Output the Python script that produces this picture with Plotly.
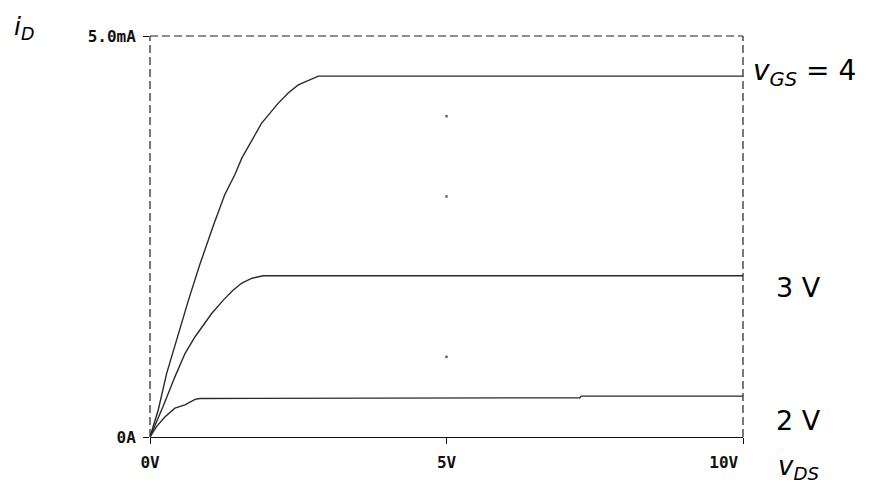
import plotly.graph_objects as go

# Drain characteristics (vDS in V, iD in mA)
vds_4 = [0, 0.14, 0.28, 0.48, 0.65, 0.84, 1.01, 1.07, 1.26, 1.43, 1.55, 1.72, 1.88, 2.16, 2.33, 2.50, 2.73, 2.84, 10]
id_4 = [0, 0.34, 0.79, 1.29, 1.71, 2.15, 2.52, 2.64, 3.02, 3.27, 3.48, 3.70, 3.91, 4.16, 4.29, 4.39, 4.47, 4.50, 4.50]

vds_3 = [0, 0.22, 0.42, 0.59, 0.76, 1.04, 1.24, 1.40, 1.55, 1.72, 1.91, 10]
id_3 = [0, 0.38, 0.75, 1.04, 1.25, 1.54, 1.71, 1.83, 1.92, 1.98, 2.01, 2.01]

vds_2 = [0, 0.11, 0.25, 0.42, 0.59, 0.76, 0.84, 7.25, 7.27, 10]
id_2 = [0, 0.13, 0.25, 0.36, 0.40, 0.47, 0.48, 0.49, 0.51, 0.51]

grid_x = [5, 5, 5]
grid_y = [1, 3, 4]

x_tickvals = [0, 5, 10]
x_ticktext = ["0V", "5V", "10V\u00a0\u00a0\u00a0\u00a0"]
y_tickvals = [0, 5]
y_ticktext = ["0A", "5.0mA"]

line_style = dict(color="#2a2a2a", width=1.4)

fig = go.Figure()
for xs, ys in [(vds_4, id_4), (vds_3, id_3), (vds_2, id_2)]:
    fig.add_trace(go.Scatter(x=xs, y=ys, mode="lines", line=line_style,
                             hoverinfo="skip", showlegend=False, cliponaxis=False))
fig.add_trace(go.Scatter(x=grid_x, y=grid_y, mode="markers",
                         marker=dict(size=2.5, color="#666666", symbol="square"),
                         hoverinfo="skip", showlegend=False))

tick_font = dict(family="DejaVu Sans Mono", size=16, color="#111111", weight="bold")

fig.update_xaxes(range=[0, 10], tickvals=x_tickvals, ticktext=x_ticktext,
                 showgrid=False, zeroline=False, showline=True, linecolor="#111111",
                 linewidth=1.3, ticks="outside", ticklen=6, tickcolor="#111111",
                 tickfont=tick_font, ticklabelstandoff=5)
fig.update_yaxes(range=[0, 5], tickvals=y_tickvals, ticktext=y_ticktext,
                 showgrid=False, zeroline=False, showline=False,
                 ticks="outside", ticklen=6, tickcolor="#111111",
                 tickfont=tick_font, ticklabelstandoff=4)

dash = dict(color="#222222", width=1.2, dash="8px,4px")
fig.add_shape(type="line", xref="paper", yref="paper", x0=0, x1=1, y0=1, y1=1, line=dash)
fig.add_shape(type="line", xref="paper", yref="paper", x0=0, x1=0, y0=0, y1=1, line=dash)
fig.add_shape(type="line", xref="paper", yref="paper", x0=1, x1=1, y0=0, y1=1, line=dash)

ann = [
    dict(text="<i>i</i><sub><i>D</i></sub>", x=-0.232, y=1.02, size=25),
    dict(text="<i>v</i><sub><i>GS</i></sub> = 4", x=1.013, y=0.91, size=28),
    dict(text="3 V", x=1.052, y=0.372, size=27),
    dict(text="2 V", x=1.052, y=0.040, size=27),
    dict(text="<i>v</i><sub><i>DS</i></sub>", x=1.055, y=-0.075, size=26),
]
for a in ann:
    fig.add_annotation(text=a["text"], x=a["x"], y=a["y"], xref="paper", yref="paper",
                       xanchor="left", yanchor="middle", showarrow=False,
                       font=dict(family="DejaVu Sans", size=a["size"], color="#000000"))

# page body adds an 8px offset, so the figure is 8px smaller than the window
fig.update_layout(width=868, height=477, plot_bgcolor="white", paper_bgcolor="white",
                  margin=dict(l=142, r=133, t=28, b=48))

fig.write_html("out.html")
